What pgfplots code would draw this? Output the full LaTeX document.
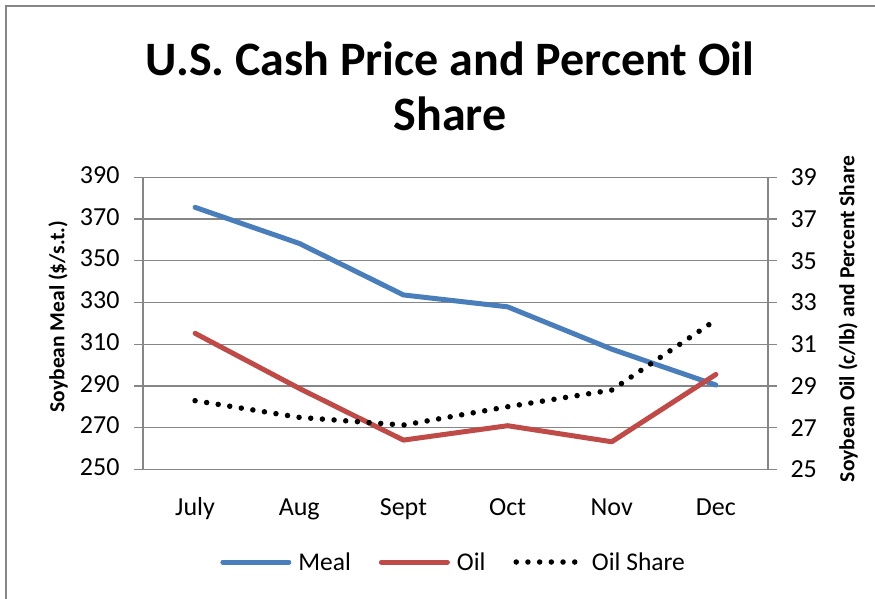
\documentclass[border=0pt]{standalone}
\usepackage{pgfplots}
\pgfplotsset{compat=1.18}
\usepackage{fontspec}
\setmainfont{Carlito}
\definecolor{meal}{RGB}{74,126,187}
\definecolor{oil}{RGB}{190,75,72}
\definecolor{gridc}{RGB}{134,134,134}
\begin{document}
\begin{tikzpicture}[x=1pt,y=1pt]
\useasboundingbox (0,0) rectangle (875,598);
\draw[gridc,line width=1.5pt] (6,-5) -- (6,592) -- (880,592);
\node[font=\fontsize{48}{55}\selectfont\bfseries,align=center,anchor=north] at (450,560) {U.S. Cash Price and Percent Oil\\Share};
\pgfplotsset{
  base/.style={
    at={(143pt,128.7pt)}, anchor=south west,
    scale only axis, width=625pt, height=292pt,
    xmin=0, xmax=6,
    axis line style={gridc,line width=1.3pt},
    every tick/.style={gridc,line width=1.3pt},
    tick align=outside,
    major tick length=9pt,
    minor tick length=9pt,
    /pgf/number format/assume math mode=true,
    ticklabel style={font=\fontsize{26}{31}\selectfont},
  }
}
\begin{axis}[base,
  ymin=250, ymax=390, ytick={250,270,...,390},
  axis y line*=left,
  axis x line*=bottom,
  xtick={0.5,1.5,...,5.5},
  xticklabels={July,Aug,Sept,Oct,Nov,Dec},
  typeset ticklabels with strut,
  minor xtick={0,1,...,6},
  xtick style={draw=none},
  minor x tick style={gridc,line width=1.3pt},
  ymajorgrids,
  grid style={gridc,line width=1.3pt},
  yticklabel style={xshift=-11pt},
  xticklabel style={yshift=-12pt},
  every axis y label/.style={at={(rel axis cs:-0.136,0.523)},rotate=90,anchor=center,font=\fontsize{21.5}{25}\selectfont\bfseries},
  ylabel={Soybean Meal (\$/s.t.)},
]
\addplot[meal,line width=5pt,line join=round,line cap=round] coordinates {
(0.5,375.6) (1.5,358.3) (2.5,333.6) (3.5,327.9) (4.5,307.6) (5.5,290.4)};
\end{axis}
\begin{axis}[base,
  ymin=25, ymax=39, ytick={25,27,...,39},
  axis y line*=right,
  axis x line=none,
  yticklabel style={xshift=10pt},
  every axis y label/.style={at={(rel axis cs:1.128,0.515)},rotate=90,anchor=center,font=\fontsize{21.5}{25}\selectfont\bfseries},
  ylabel={Soybean Oil (c/lb) and Percent Share},
  legend columns=3,
  legend style={at={(rel axis cs:0.497,-0.3175)},anchor=center,draw=none,
    font=\fontsize{25.5}{30}\selectfont,
    /tikz/every even column/.append style={column sep=26pt},
    /tikz/every odd column/.append style={column sep=5pt}},
  legend image code/.code={\draw[#1] (0pt,0pt) -- (66pt,0pt);},
]
\addlegendimage{meal,line width=5pt,line cap=round}
\addlegendentry{Meal}
\addplot[oil,line width=5pt,line join=round,line cap=round] coordinates {
(0.5,31.52) (1.5,28.88) (2.5,26.40) (3.5,27.09) (4.5,26.32) (5.5,29.55)};
\addlegendentry{Oil}
\addplot[black,line width=5.5pt,line cap=round,dash pattern=on 0pt off 11.7pt] coordinates {
(0.5,28.29) (1.5,27.49) (2.5,27.12) (3.5,28.00) (4.5,28.80) (5.5,32.16)};
\addlegendentry{Oil Share}
\end{axis}
\end{tikzpicture}
\end{document}
